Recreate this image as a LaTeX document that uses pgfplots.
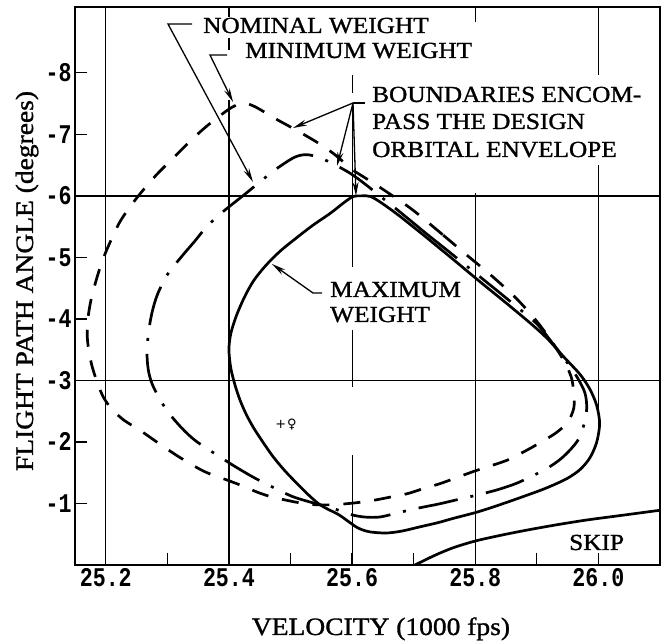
\documentclass[border=0pt]{standalone}
\usepackage{fontspec}
\setmainfont{Liberation Serif}[FakeStretch=1.1,FakeBold=1.2]
\newfontfamily\tickfont{Liberation Mono}[FakeStretch=0.8]
\newfontfamily\dejavu{DejaVu Sans}
\usepackage{pgfplots}
\pgfplotsset{compat=1.18}
\usetikzlibrary{arrows.meta}
\begin{document}
\begin{tikzpicture}
\useasboundingbox (-75pt,-77pt) rectangle (586pt,565pt);
% grid segments (pixel-like coordinates of the reference)
\begin{scope}[x=1pt,y=-1pt,shift={(-75pt,565pt)},line width=1.1pt]
\draw (105.8,7)--(105.8,565);
\draw (228.95,7)--(228.95,17) (228.95,38)--(228.95,50) (228.95,100)--(228.95,565);
\draw (352.1,75)--(352.1,93) (352.1,103)--(352.1,267) (352.1,330)--(352.1,387) (352.1,455)--(352.1,565);
\draw (475.3,7)--(475.3,22) (475.3,193)--(475.3,565);
\draw (598.4,7)--(598.4,75) (598.4,165)--(598.4,440) (598.4,557)--(598.4,565);
\draw (75,196)--(660,196) (75,380.5)--(660,380.5);
\end{scope}
\begin{axis}[at={(0,0)},anchor=south west,
  scale only axis, width=585pt, height=558pt,
  xmin=25.15, xmax=26.1, ymin=-9.07, ymax=0, y dir=reverse,
  xtick={25.2,25.4,25.6,25.8,26.0}, xticklabels={25.2,25.4,25.6,25.8,26.0},
  minor xtick={25.3,25.5,25.7,25.9},
  ytick={-8,-7,-6,-5,-4,-3,-2,-1}, yticklabels={-8,-7,-6,-5,-4,-3,-2,-1},
  tick pos=left, tick align=inside,
  major tick length=12pt, minor tick length=12pt,
  every tick/.style={line width=1.3pt, black},
  axis line style={line width=2pt},
  xticklabel style={font=\tickfont\bfseries\fontsize{27pt}{27pt}\selectfont},
  yticklabel style={font=\tickfont\bfseries\fontsize{27pt}{27pt}\selectfont},
]
% MAXIMUM WEIGHT (solid)
\addplot[black, line width=2.7pt, smooth, no markers] coordinates {
(25.72,-5.33) (25.68,-5.65) (25.65,-5.87) (25.63,-5.99) (25.615,-6.0) (25.602,-5.99)
(25.588,-5.9) (25.565,-5.72) (25.536,-5.52) (25.51,-5.32) (25.483,-5.1) (25.46,-4.87)
(25.44,-4.62) (25.425,-4.35) (25.412,-4.05) (25.403,-3.76) (25.40,-3.5) (25.403,-3.2)
(25.41,-2.92) (25.418,-2.68) (25.428,-2.45) (25.44,-2.23) (25.455,-2.0) (25.471,-1.77)
(25.49,-1.54) (25.51,-1.33) (25.527,-1.16) (25.545,-1.0) (25.56,-0.91) (25.578,-0.82)
(25.595,-0.7) (25.61,-0.6) (25.628,-0.54) (25.655,-0.52) (25.68,-0.55) (25.71,-0.62)
(25.74,-0.69) (25.765,-0.76) (25.803,-0.86) (25.84,-0.98) (25.88,-1.12) (25.915,-1.25)
(25.948,-1.4) (25.97,-1.55) (25.986,-1.74) (25.997,-1.99) (26.002,-2.3) (25.997,-2.6)
(25.986,-2.86) (25.97,-3.1) (25.944,-3.38) (25.918,-3.67) (25.893,-3.9) (25.85,-4.26)
(25.807,-4.61) (25.765,-4.96) (25.72,-5.33)};
% NOMINAL WEIGHT (dash-dot)
\addplot[black, line width=2.7pt, smooth, no markers, dash pattern=on 40pt off 13pt on 3pt off 13pt] coordinates {
(25.72,-5.39) (25.68,-5.72) (25.645,-6.0) (25.62,-6.2) (25.598,-6.36) (25.575,-6.49)
(25.55,-6.61) (25.527,-6.67) (25.507,-6.63) (25.48,-6.46) (25.458,-6.29) (25.425,-6.02)
(25.39,-5.74) (25.364,-5.5) (25.345,-5.27) (25.322,-5.0) (25.30,-4.72) (25.284,-4.4)
(25.275,-4.1) (25.269,-3.75) (25.267,-3.4) (25.27,-3.12) (25.278,-2.88) (25.298,-2.53)
(25.323,-2.23) (25.347,-2.01) (25.385,-1.76) (25.41,-1.6) (25.439,-1.43) (25.47,-1.27)
(25.504,-1.11) (25.54,-1.0) (25.572,-0.91) (25.598,-0.82) (25.62,-0.78) (25.645,-0.78)
(25.675,-0.85) (25.71,-0.93) (25.74,-0.99) (25.77,-1.06) (25.8,-1.13) (25.835,-1.22)
(25.865,-1.32) (25.889,-1.43) (25.915,-1.56) (25.937,-1.71) (25.954,-1.87) (25.968,-2.05)
(25.977,-2.3) (25.981,-2.55) (25.978,-2.8) (25.965,-3.06) (25.945,-3.35) (25.922,-3.65)
(25.9,-3.92) (25.855,-4.3) (25.807,-4.69) (25.765,-5.03) (25.72,-5.39)};
% MINIMUM WEIGHT (dashed)
\addplot[black, line width=2.7pt, smooth, no markers, dash pattern=on 17pt off 14pt] coordinates {
(25.747,-5.37) (25.705,-5.72) (25.682,-5.89) (25.645,-6.14) (25.62,-6.3) (25.6,-6.43)
(25.572,-6.67) (25.548,-6.84) (25.523,-6.99) (25.50,-7.12) (25.478,-7.24) (25.458,-7.36)
(25.44,-7.46) (25.423,-7.51) (25.405,-7.44) (25.385,-7.3) (25.36,-7.1) (25.335,-6.87)
(25.31,-6.62) (25.283,-6.35) (25.257,-6.05) (25.24,-5.83) (25.223,-5.58) (25.208,-5.27)
(25.195,-4.96) (25.185,-4.65) (25.176,-4.31) (25.171,-4.0) (25.17,-3.7) (25.173,-3.45)
(25.178,-3.22) (25.186,-2.97) (25.196,-2.73) (25.21,-2.53) (25.23,-2.35) (25.254,-2.2)
(25.29,-1.95) (25.32,-1.75) (25.36,-1.52) (25.40,-1.37) (25.426,-1.27) (25.447,-1.18)
(25.471,-1.1) (25.49,-1.06) (25.515,-1.01) (25.54,-0.98) (25.57,-0.98) (25.605,-1.01)
(25.634,-1.05) (25.66,-1.1) (25.69,-1.16) (25.715,-1.24) (25.742,-1.32) (25.767,-1.41)
(25.8,-1.53) (25.851,-1.7) (25.875,-1.82) (25.897,-1.94) (25.93,-2.14) (25.95,-2.32)
(25.96,-2.55) (25.96,-2.8) (25.956,-3.05) (25.945,-3.3) (25.925,-3.62) (25.90,-3.96)
(25.867,-4.33) (25.829,-4.68) (25.786,-5.04) (25.747,-5.37)};
% SKIP
\addplot[black, line width=2.7pt, smooth, no markers] coordinates {
(25.702,0) (25.735,-0.16) (25.764,-0.28) (25.80,-0.39) (25.84,-0.48) (25.88,-0.56)
(25.93,-0.65) (25.98,-0.73) (26.04,-0.81) (26.1,-0.89)};
\end{axis}
% annotations
\begin{scope}[x=1pt,y=-1pt,shift={(-75pt,565pt)},
  font=\fontsize{23pt}{26pt}\selectfont,
  lead/.style={line width=1.3pt,-{Stealth[length=14pt,width=6pt]}}]
\draw[lead] (192,24)--(168,24)--(253,182);
\draw[lead] (227,55)--(210,55)--(233,102);
\draw[line width=1.3pt] (353,103)--(365,103);
\draw[lead] (353,103)--(293,128);
\draw[lead] (353,103)--(337,166);
\draw[lead] (353,103)--(356,196);
\draw[lead] (322,293)--(313,293)--(272,264);
\node[anchor=base west,inner sep=0pt] at (203,33) {NOMINAL WEIGHT};
\node[anchor=base west,inner sep=0pt] at (245,58) {MINIMUM WEIGHT};
\node[anchor=base west,inner sep=0pt] at (372,102) {BOUNDARIES ENCOM-};
\node[anchor=base west,inner sep=0pt] at (372,129) {PASS THE DESIGN};
\node[anchor=base west,inner sep=0pt] at (372,157) {ORBITAL ENVELOPE};
\node[anchor=base west,inner sep=0pt] at (330,297) {MAXIMUM};
\node[anchor=base west,inner sep=0pt] at (330,322) {WEIGHT};
\node[anchor=base west,inner sep=0pt] at (569,550) {SKIP};
\node[anchor=center,inner sep=0pt] at (286,425) {\dejavu\fontsize{13pt}{13pt}\selectfont +\kern1pt♀};
\node[anchor=base,inner sep=0pt,font=\fontsize{25pt}{28pt}\selectfont] at (381,635) {VELOCITY (1000 fps)};
\node[anchor=base,inner sep=0pt,rotate=90,font=\fontsize{25pt}{28pt}\selectfont] at (33,281) {FLIGHT PATH ANGLE (degrees)};
\end{scope}
\end{tikzpicture}
\end{document}
